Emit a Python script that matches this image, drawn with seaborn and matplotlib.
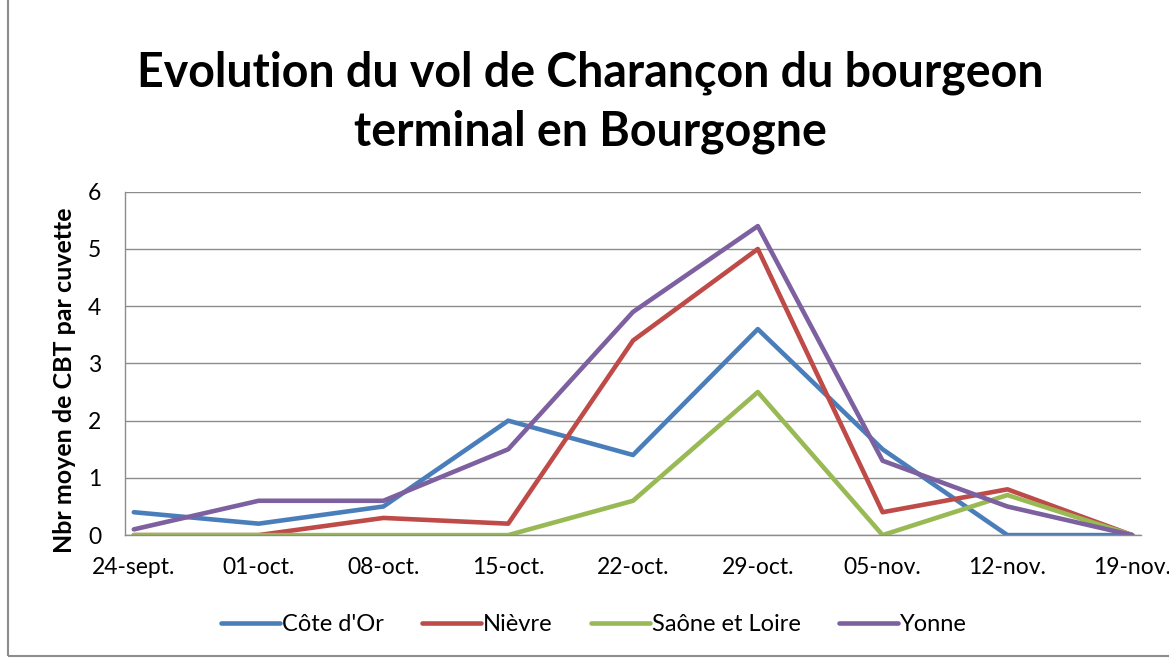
import pandas as pd
import seaborn as sns
import matplotlib.pyplot as plt
from matplotlib.patches import Rectangle

# Données
dates = ["24-sept.", "01-oct.", "08-oct.", "15-oct.", "22-oct.",
         "29-oct.", "05-nov.", "12-nov.", "19-nov."]
cote_dor = [0.4, 0.2, 0.5, 2.0, 1.4, 3.6, 1.5, 0.0, 0.0]
nievre = [0.0, 0.0, 0.3, 0.2, 3.4, 5.0, 0.4, 0.8, 0.0]
saone_et_loire = [0.0, 0.0, 0.0, 0.0, 0.6, 2.5, 0.0, 0.7, 0.0]
yonne = [0.1, 0.6, 0.6, 1.5, 3.9, 5.4, 1.3, 0.5, 0.0]

series = {"Côte d'Or": cote_dor, "Nièvre": nievre,
          "Saône et Loire": saone_et_loire, "Yonne": yonne}
colors = ["#4A7EBB", "#BE4B48", "#98B954", "#7D60A0"]

rows = []
for name, vals in series.items():
    for i, v in enumerate(vals):
        rows.append({"idx": i, "val": v, "dep": name})
df = pd.DataFrame(rows)

sns.set_style("white")
plt.rcParams['font.family'] = ['Lato', 'DejaVu Sans']
plt.rcParams['text.color'] = 'black'
plt.rcParams['axes.labelcolor'] = 'black'

fig = plt.figure(figsize=(11.69, 6.59), dpi=100)
ax = fig.add_axes([0.107, 0.188, 0.869, 0.521])

sns.lineplot(data=df, x="idx", y="val", hue="dep", palette=colors,
             linewidth=3.3, ax=ax, legend=True)

ax.set_xlim(-0.07, 8.07)
ax.set_ylim(0, 6)
ax.set_yticks(range(0, 7))
ax.set_xticks(range(len(dates)))
ax.set_xticklabels(dates)
ax.tick_params(axis="both", labelsize=16.5, length=0, colors="black")
ax.tick_params(axis="x", pad=16)
ax.tick_params(axis="y", pad=17)
ax.yaxis.grid(True, color="#8c8c8c", linewidth=1)
ax.set_axisbelow(True)
for side in ["top", "right"]:
    ax.spines[side].set_visible(False)
for side in ["left", "bottom"]:
    ax.spines[side].set_color("#8c8c8c")
    ax.spines[side].set_linewidth(1)

ax.set_xlabel("")
ax.set_ylabel("Nbr moyen de CBT par cuvette", fontsize=18, fontweight="bold")
ax.yaxis.set_label_coords(-0.048, 0.45)

fig.text(0.505, 0.845, "Evolution du vol de Charançon du bourgeon\nterminal en Bourgogne",
         ha="center", va="center", fontsize=33.5, fontweight="bold",
         linespacing=1.4)

handles, labels = ax.get_legend_handles_labels()
ax.legend(handles, labels, loc="center", bbox_to_anchor=(0.508, 0.052),
          bbox_transform=fig.transFigure, ncol=4, frameon=False,
          fontsize=17, handlelength=2.5, handletextpad=0.1, columnspacing=1.6)

# cadre gris du graphique
fig.patches.append(Rectangle((0.007, 0.005), 1.2, 1.2, transform=fig.transFigure,
                             fill=False, edgecolor="#8c8c8c", linewidth=1.5))

fig.savefig("out.png", dpi=100)
